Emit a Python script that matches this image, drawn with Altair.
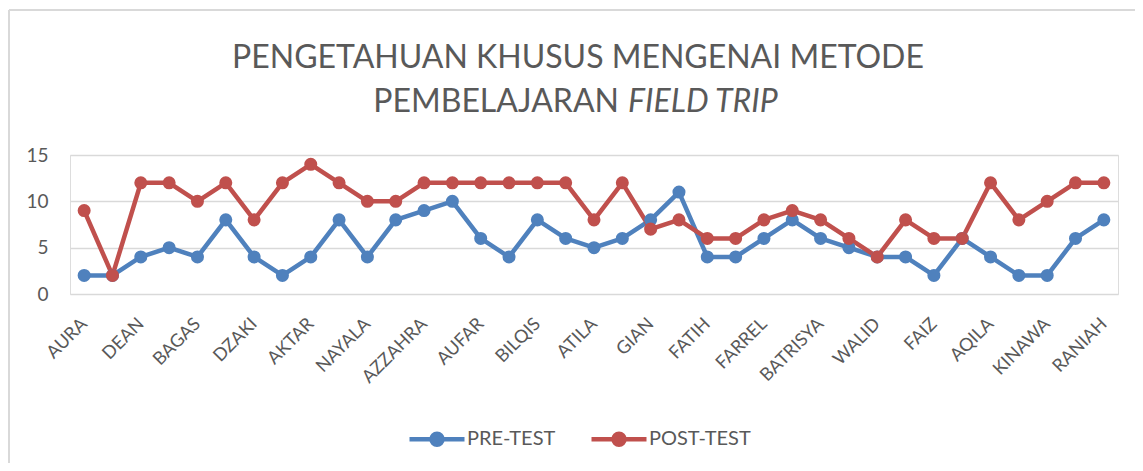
import altair as alt
import pandas as pd

# ---- data ----
shown_names = ["AURA", "DEAN", "BAGAS", "DZAKI", "AKTAR", "NAYALA", "AZZAHRA",
               "AUFAR", "BILQIS", "ATILA", "GIAN", "FATIH", "FARREL", "BATRISYA",
               "WALID", "FAIZ", "AQILA", "KINAWA", "RANIAH"]
pre_test = [2, 2, 4, 5, 4, 8, 4, 2, 4, 8, 4, 8, 9, 10, 6, 4, 8, 6, 5, 6,
            8, 11, 4, 4, 6, 8, 6, 5, 4, 4, 2, 6, 4, 2, 2, 6, 8]
post_test = [9, 2, 12, 12, 10, 12, 8, 12, 14, 12, 10, 10, 12, 12, 12, 12, 12, 12, 8, 12,
             7, 8, 6, 6, 8, 9, 8, 6, 4, 8, 6, 6, 12, 8, 10, 12, 12]
series_names = ["PRE-TEST", "POST-TEST"]
series_colors = ["#4F81BD", "#C0504D"]
y_ticks = [0, 5, 10, 15]
title_line1 = "PENGETAHUAN KHUSUS MENGENAI METODE"
title_line2a = "PEMBELAJARAN"
title_line2b = "FIELD TRIP"

rows = []
for s_name, vals in zip(series_names, [pre_test, post_test]):
    for i, v in enumerate(vals):
        rows.append({"idx": i, "series": s_name, "value": v})
df = pd.DataFrame(rows)

FONT = "Lato"
GREY = "#595959"
W, H = 1048, 139
PAD = {"left": 62, "top": 147, "right": 17, "bottom": 169}

names_js = "[" + ",".join("'" + n + "'" for n in shown_names) + "]"
label_expr = f"datum.value % 2 == 0 ? {names_js}[datum.value / 2] : ''"

x_enc = alt.X("idx:O",
              scale=alt.Scale(type="point", padding=0.5),
              axis=alt.Axis(labelExpr=label_expr, labelAngle=-45, labelAlign="right",
                            labelBaseline="middle", labelPadding=27,
                            ticks=False, domain=False, grid=False, title=None,
                            labelFont=FONT, labelFontSize=18, labelColor=GREY,
                            labelOverlap=False))
y_enc = alt.Y("value:Q",
              scale=alt.Scale(domain=[0, 15], nice=False),
              axis=alt.Axis(values=y_ticks, grid=True, gridColor="#d9d9d9", gridWidth=1.5,
                            domain=False, ticks=False, title=None, labelPadding=22,
                            labelFont=FONT, labelFontSize=19, labelColor=GREY))

color_scale = alt.Scale(domain=series_names, range=series_colors)

legend_path = "M-1,0L1,0M-0.2,0A0.2,0.2,0,1,1,0.2,0A0.2,0.2,0,1,1,-0.2,0"

leg = alt.Legend(orient="none", legendX=337, legendY=254, direction="horizontal",
                 title=None, symbolType=legend_path, symbolSize=3025,
                 symbolStrokeWidth=4.5, labelFont=FONT, labelFontSize=20,
                 labelColor=GREY, columnPadding=26, labelOffset=0, padding=0)

base = alt.Chart(df)
lines = base.mark_line(strokeWidth=4.5, strokeCap="round", strokeJoin="round").encode(
    x=x_enc, y=y_enc,
    color=alt.Color("series:N", scale=color_scale, legend=leg),
)
points = base.mark_point(size=170, opacity=1, filled=True).encode(
    x=x_enc, y=y_enc,
    color=alt.Color("series:N", scale=color_scale, legend=leg),
)

t1 = alt.Chart(pd.DataFrame({"t": [title_line1]})).mark_text(
    font=FONT, fontSize=32, color=GREY, align="center", baseline="middle"
).encode(text="t:N", x=alt.value(508), y=alt.value(-97))
t2a = alt.Chart(pd.DataFrame({"t": [title_line2a]})).mark_text(
    font=FONT, fontSize=32, color=GREY, align="right", baseline="middle"
).encode(text="t:N", x=alt.value(549), y=alt.value(-53))
t2b = alt.Chart(pd.DataFrame({"t": [title_line2b]})).mark_text(
    font=FONT, fontSize=32, color=GREY, align="left", baseline="middle",
    fontStyle="italic"
).encode(text="t:N", x=alt.value(558), y=alt.value(-53))

border_left = alt.Chart(pd.DataFrame({"k": [0]})).mark_rule(
    color="#d9d9d9", strokeWidth=2
).encode(x=alt.value(-61), y=alt.value(-145), y2=alt.value(310))
border_top = alt.Chart(pd.DataFrame({"k": [0]})).mark_rule(
    color="#d9d9d9", strokeWidth=2
).encode(x=alt.value(-61), x2=alt.value(1070), y=alt.value(-145))

chart = alt.layer(border_left, border_top, lines, points, t1, t2a, t2b).properties(
    width=W, height=H,
    autosize=alt.AutoSizeParams(type="none"),
    padding=PAD,
).configure_view(stroke=None).configure(background="white")

chart.save("out.html", embed_options={"renderer": "svg", "actions": False})
